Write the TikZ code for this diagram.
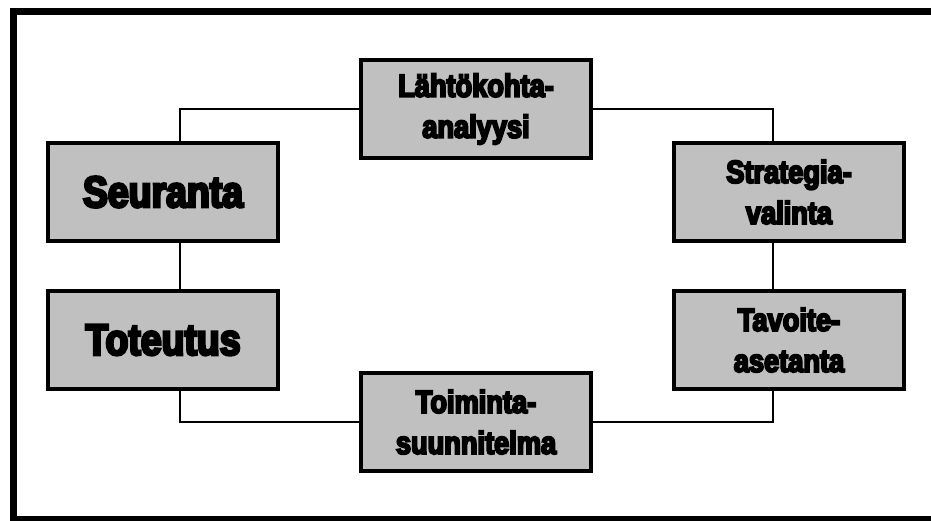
\documentclass[tikz,border=0pt]{standalone}
\usepackage{fontspec}
\newfontfamily\boxfont{Liberation Sans}[FakeStretch=0.85, FakeBold=6, BoldFeatures={FakeBold=6}]
\usepackage{tikz}
\usetikzlibrary{positioning}
\definecolor{boxgray}{RGB}{192,192,192}

\tikzset{
  phase/.style={draw, line width=4pt, fill=boxgray, minimum width=230pt, minimum height=98pt,
    inner sep=0pt, align=center, font=\boxfont\bfseries\fontsize{32}{41}\selectfont},
  bigphase/.style={phase, font=\boxfont\bfseries\fontsize{44}{50}\selectfont},
  link/.style={draw, line width=2pt}
}

\begin{document}
\begin{tikzpicture}[x=1pt, y=-1pt]
        \useasboundingbox (0,0) rectangle (931,520);
        % frame, open on the right
        \path[draw, line width=7pt, line cap=rect](931,11) -- (13.5,11) -- (13.5,519) -- (931,519);

        % phases
        \node[bigphase] (seur) at (163,192) {Seuranta};
        \node[bigphase] (tot) at (163,340) {Toteutus};
        \node[phase] (lahto) at (476,109) {Lähtökohta-\\analyysi};
        \node[phase] (strat) at (789,192) {Strategia-\\valinta};
        \node[phase] (tav) at (789,340) {Tavoite-\\asetanta};
        \node[phase] (toim) at (476,422) {Toiminta-\\suunnitelma};

        % links
        \path[link](seur.north -| 180,0) |- (lahto.west);
        \path[link](lahto.east) -| (strat.north -| 773,0);
        \path[link](strat.south -| 773,0) -- (tav.north -| 773,0);
        \path[link](tav.south -| 773,0) |- (toim.east);
        \path[link](toim.west) -| (tot.south -| 180,0);
        \path[link](tot.north -| 180,0) -- (seur.south -| 180,0);
\end{tikzpicture}
\end{document}
